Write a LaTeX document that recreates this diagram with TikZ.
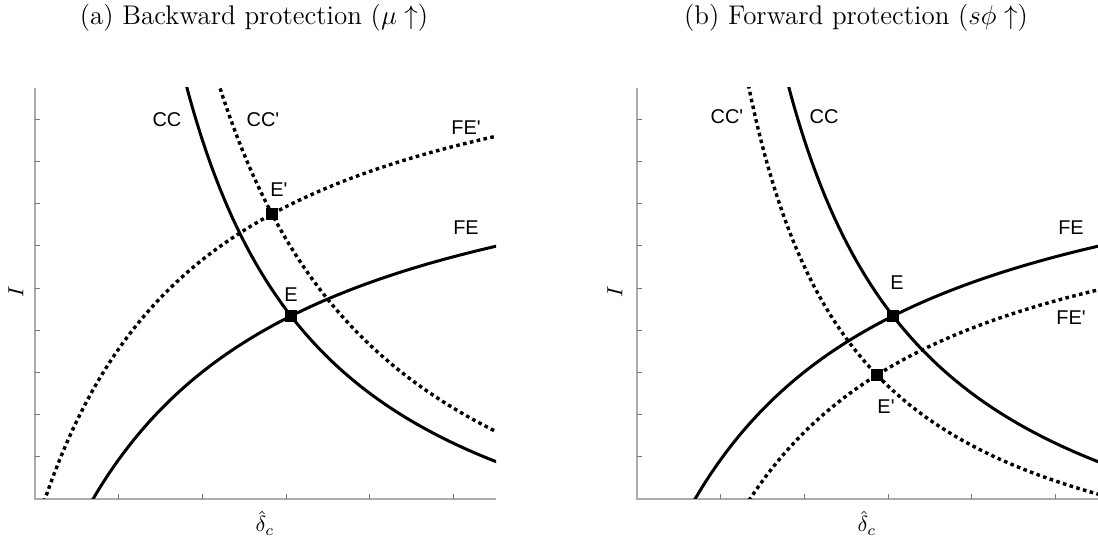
\documentclass[tikz,border=0pt]{standalone}
\usepackage{fontspec}
\newfontfamily\lblfont{Liberation Sans}[Ligatures=TeXOff]
\usetikzlibrary{positioning}
\definecolor{Ink}{HTML}{000000}
\definecolor{AxisGray}{HTML}{ABABAB}
\definecolor{TickGray}{HTML}{7A7A7A}
\tikzset{
  plotAxis/.style={draw=AxisGray,line width=1.6bp},
  plotTick/.style={draw=TickGray,line width=0.9bp},
  schedSolid/.style={draw=Ink,line width=3bp},
  schedDotted/.style={draw=Ink,line width=3.4bp,dash pattern=on 3.6bp off 3.4bp},
  eqPoint/.style={rectangle,fill=Ink,minimum size=12bp,inner sep=0pt},
  curveLabel/.style={font=\lblfont\fontsize{20}{22}\selectfont,inner sep=0pt},
  axisLabel/.style={font=\fontsize{10}{12}\selectfont,inner sep=0pt,scale=2.2,transform shape},
  panelTitle/.style={font=\fontsize{14.4}{17}\selectfont,inner sep=0pt,scale=1.88,transform shape,anchor=base}
}

\begin{document}
\begin{tikzpicture}[x=10bp,y=10bp]
  \useasboundingbox (0,0) rectangle (109.8,54.0);

  % Panel titles
  \node[panelTitle] (titleA) at (25.4,51.55) {(a) Backward protection ($\mu\uparrow$)};
  \node[panelTitle] (titleB) at (85.6,51.55) {(b) Forward protection ($s\phi\uparrow$)};

  % Panel (a): backward protection
  \begin{scope}[shift={(3.5,4.1)}]
    \draw[plotAxis] (0,41.1) -- (0,0) -- (46.1,0);
    \foreach \k in {1,...,5} \draw[plotTick] ({8.37*\k},0) -- ({8.37*\k},0.5);
    \foreach \k in {1,...,9} \draw[plotTick] (0,{4.22*\k}) -- (0.5,{4.22*\k});
    \node[axisLabel] (xlabA) at (23.0,-2.4) {$\hat{\delta}_c$};
    \node[axisLabel,rotate=90] (ylabA) at (-1.9,20.7) {$I$};
    \begin{scope}
      \clip (0,0) rectangle (46.1,41.1);
      \draw[schedSolid] plot[domain=15:46.2,samples=80,smooth] (\x,{-14.17+818.51/(\x-0.39)});
      \draw[schedDotted] plot[domain=18.3:46.2,samples=80,smooth] (\x,{-16.22+1057.8/(\x-0.045)});
      \draw[schedSolid] plot[domain=5.7:46.2,samples=80,smooth] (\x,{40.01-939.9/(\x+17.69)});
      \draw[schedDotted] plot[domain=0.9:46.2,samples=80,smooth] (\x,{50.14-864.5/(\x+16.24)});
    \end{scope}
    \node[eqPoint] (Ea) at (25.6,18.3) {};
    \node[eqPoint] (Epa) at (23.7,28.5) {};
    \node[curveLabel,above=7.8bp of Ea] (EaLbl) {E};
    \node[curveLabel,above=10.8bp of Epa,xshift=7bp] (EpaLbl) {E'};
    \node[curveLabel] (ccA) at (13.2,37.9) {CC};
    \node[curveLabel] (ccpA) at (22.8,37.9) {CC'};
    \node[curveLabel] (fepA) at (43.1,37.1) {FE'};
    \node[curveLabel] (feA) at (43.1,27.1) {FE};
  \end{scope}

  % Panel (b): forward protection
  \begin{scope}[shift={(63.7,4.1)}]
    \draw[plotAxis] (0,41.1) -- (0,0) -- (46.1,0);
    \foreach \k in {1,...,5} \draw[plotTick] ({8.37*\k},0) -- ({8.37*\k},0.5);
    \foreach \k in {1,...,9} \draw[plotTick] (0,{4.22*\k}) -- (0.5,{4.22*\k});
    \node[axisLabel] (xlabB) at (23.0,-2.4) {$\hat{\delta}_c$};
    \node[axisLabel,rotate=90] (ylabB) at (-2.2,20.7) {$I$};
    \begin{scope}
      \clip (0,0) rectangle (46.1,41.1);
      \draw[schedSolid] plot[domain=15:46.2,samples=80,smooth] (\x,{-14.17+818.51/(\x-0.39)});
      \draw[schedDotted] plot[domain=11.0:46.2,samples=80,smooth] (\x,{-12.34+589.4/(\x-0.17)});
      \draw[schedSolid] plot[domain=5.7:46.2,samples=80,smooth] (\x,{40.01-939.9/(\x+17.69)});
      \draw[schedDotted] plot[domain=11.2:46.2,samples=80,smooth] (\x,{34.49-780.1/(\x+11.32)});
    \end{scope}
    \node[eqPoint] (Eb) at (25.6,18.3) {};
    \node[eqPoint] (Epb) at (24.0,12.4) {};
    \node[curveLabel,above=19.8bp of Eb,xshift=4bp] (EbLbl) {E};
    \node[curveLabel,below=18.8bp of Epb,xshift=9bp] (EpbLbl) {E'};
    \node[curveLabel] (ccpB) at (9.0,38.2) {CC'};
    \node[curveLabel] (ccB) at (18.7,38.2) {CC};
    \node[curveLabel] (feB) at (43.4,27.1) {FE};
    \node[curveLabel] (fepB) at (43.4,18.1) {FE'};
  \end{scope}
\end{tikzpicture}
\end{document}
